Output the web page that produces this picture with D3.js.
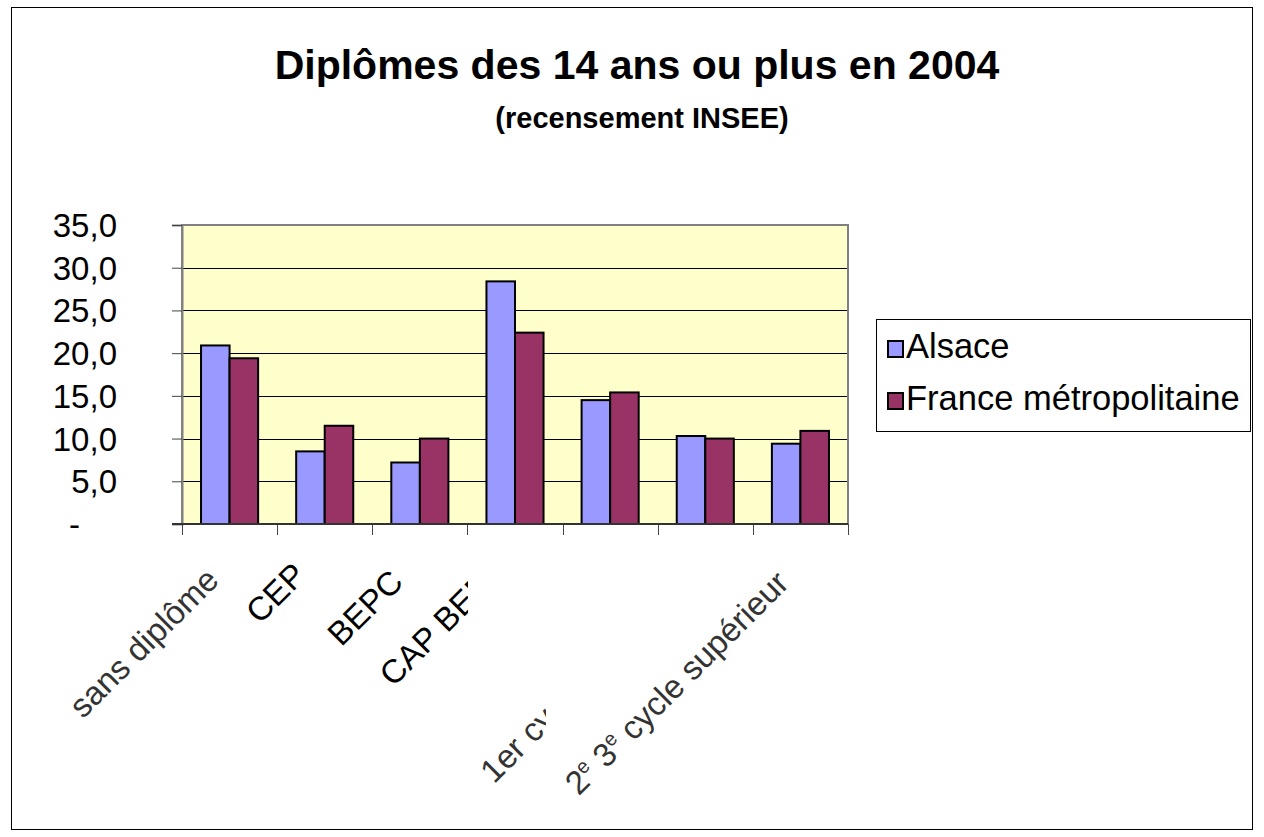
<!DOCTYPE html>
<html>
<head>
<meta charset="utf-8">
<script src="https://cdn.jsdelivr.net/npm/d3@7"></script>
<style>
  html, body { margin: 0; padding: 0; background: #fff; }
  svg { display: block; font-family: "Liberation Sans", Arial, sans-serif; }
</style>
</head>
<body>
<svg id="chart" width="1264" height="837"></svg>
<script>
// ---- data ----
const categories = ["sans diplôme", "CEP", "BEPC", "CAP BEP", "Bac BP", "1er cycle", "2e 3e cycle supérieur"];
const tickLabels = ["sans diplôme", "CEP", "BEPC", "CAP BEP", "", "1er cycle", "2e 3e cycle supérieur"];
const seriesNames = ["Alsace", "France métropolitaine"];
const alsace = [20.9, 8.5, 7.2, 28.4, 14.5, 10.3, 9.4];
const france = [19.4, 11.5, 10.0, 22.4, 15.4, 10.0, 10.9];
const yTicks = [0, 5, 10, 15, 20, 25, 30, 35];
const titleText = "Diplômes des 14 ans ou plus en 2004";
const subtitleText = "(recensement INSEE)";

// ---- layout / style ----
const colors = ["#9999FF", "#993366"];
const plot = { left: 182, right: 848, top: 225, bottom: 524 };
// anchor offsets of rotated category labels (relative to category centre / axis), and clip limits
const labelLayout = [
  { dx: -9, dy: 58 },
  { dx: -17, dy: 53 },
  { dx: -15, dy: 60 },
  { dx: -21, dy: 63, clipX: 468 },
  { dx: 0, dy: 0 },
  { dx: -118, dy: 167, clipX: 546 },
  { dx: -10, dy: 61 }
];

const svg = d3.select("#chart");

// outer frame
svg.append("rect").attr("x", 11.5).attr("y", 7.5).attr("width", 1241).attr("height", 822)
  .attr("fill", "#fff").attr("stroke", "#000").attr("stroke-width", 1);

// titles
svg.append("text").attr("x", 637).attr("y", 79).attr("text-anchor", "middle")
  .attr("font-size", 41).attr("font-weight", "bold").text(titleText);
svg.append("text").attr("x", 642).attr("y", 128).attr("text-anchor", "middle")
  .attr("font-size", 29).attr("font-weight", "bold").text(subtitleText);

// scales
const x0 = d3.scaleBand().domain(categories).range([plot.left, plot.right])
  .paddingInner(0.4).paddingOuter(0.2);
const xCat = d3.scaleBand().domain(categories).range([plot.left, plot.right]).padding(0);
const x1 = d3.scaleBand().domain(seriesNames).range([0, x0.bandwidth()]);
const y = d3.scaleLinear().domain([0, 35]).range([plot.bottom, plot.top]);

// plot background
svg.append("rect").attr("x", plot.left).attr("y", plot.top)
  .attr("width", plot.right - plot.left).attr("height", plot.bottom - plot.top)
  .attr("fill", "#FFFFCC");

// gridlines
svg.append("g").selectAll("line").data(yTicks.filter(d => d > 0 && d < 35)).join("line")
  .attr("x1", plot.left).attr("x2", plot.right)
  .attr("y1", d => Math.round(y(d)) + 0.5).attr("y2", d => Math.round(y(d)) + 0.5)
  .attr("stroke", "#000").attr("stroke-width", 1);

// plot border (gray)
svg.append("rect").attr("x", plot.left).attr("y", plot.top)
  .attr("width", plot.right - plot.left).attr("height", plot.bottom - plot.top)
  .attr("fill", "none").attr("stroke", "#808080").attr("stroke-width", 2);

// bars
const rows = categories.map((c, i) => ({ cat: c, vals: [alsace[i], france[i]] }));
const groups = svg.append("g").selectAll("g").data(rows).join("g")
  .attr("transform", d => `translate(${x0(d.cat)},0)`);
groups.selectAll("rect").data(d => d.vals.map((v, j) => ({ key: seriesNames[j], v, j }))).join("rect")
  .attr("x", d => x1(d.key))
  .attr("y", d => y(d.v))
  .attr("width", x1.bandwidth())
  .attr("height", d => y(0) - y(d.v))
  .attr("fill", d => colors[d.j])
  .attr("stroke", "#000").attr("stroke-width", 2);

// y axis
const fmt = d => d === 0 ? "-" : d3.format(".1f")(d).replace(".", ",");
const yAxis = d3.axisLeft(y).tickValues(yTicks).tickSize(10).tickPadding(0).tickFormat(fmt);
const yg = svg.append("g").attr("transform", `translate(${plot.left},0)`).call(yAxis);
yg.select(".domain").attr("stroke", "#808080").attr("stroke-width", 2);
yg.selectAll(".tick line").attr("stroke", "#444");
yg.selectAll(".tick text")
  .attr("font-family", "Liberation Sans, Arial, sans-serif")
  .attr("font-size", 33).attr("fill", "#000")
  .attr("x", d => d === 0 ? -102 : -65).attr("dy", "0.35em");

// x axis ticks at category boundaries
const boundaries = categories.map(c => xCat(c)).concat([plot.right]);
svg.append("g").selectAll("line").data(boundaries).join("line")
  .attr("x1", d => Math.round(d) + 0.5).attr("x2", d => Math.round(d) + 0.5)
  .attr("y1", plot.bottom).attr("y2", plot.bottom + 11)
  .attr("stroke", "#444").attr("stroke-width", 1);
svg.append("line").attr("x1", plot.left - 10).attr("x2", plot.right)
  .attr("y1", plot.bottom).attr("y2", plot.bottom).attr("stroke", "#333").attr("stroke-width", 2);

// clip paths for truncated labels
const defs = svg.append("defs");
labelLayout.forEach((l, i) => {
  if (l.clipX) {
    defs.append("clipPath").attr("id", "clip" + i)
      .append("rect").attr("x", 0).attr("y", 0).attr("width", l.clipX).attr("height", 837);
  }
});

// category labels (rotated)
const lg = svg.append("g");
tickLabels.forEach((t, i) => {
  if (!t) return;
  const l = labelLayout[i];
  const cx = xCat(categories[i]) + xCat.bandwidth() / 2 + l.dx;
  const cy = plot.bottom + l.dy;
  const wrap = lg.append("g");
  if (l.clipX) wrap.attr("clip-path", `url(#clip${i})`);
  const txt = wrap.append("text")
    .attr("transform", `translate(${cx},${cy}) rotate(-45)`)
    .attr("text-anchor", "end").attr("font-size", 33)
    .attr("fill", (i === 0 || i >= 5) ? "#333" : "#000");
  const m = t.match(/^(\d)e (\d)e (.*)$/);
  if (m) {
    txt.append("tspan").text(m[1]);
    txt.append("tspan").attr("font-size", 20).attr("dy", -12).text("e");
    txt.append("tspan").attr("dy", 12).text(" " + m[2]);
    txt.append("tspan").attr("font-size", 20).attr("dy", -12).text("e");
    txt.append("tspan").attr("dy", 12).text(" " + m[3]);
  } else {
    txt.text(t);
  }
});

// legend
const legend = svg.append("g");
legend.append("rect").attr("x", 876.5).attr("y", 319.5).attr("width", 374).attr("height", 112)
  .attr("fill", "#fff").attr("stroke", "#000").attr("stroke-width", 1);
const legendY = d3.scalePoint().domain(seriesNames).range([349, 401]);
seriesNames.forEach((s, j) => {
  legend.append("rect").attr("x", 888).attr("y", legendY(s) - 8).attr("width", 15).attr("height", 16)
    .attr("fill", colors[j]).attr("stroke", "#000").attr("stroke-width", 2);
  legend.append("text").attr("x", 906).attr("y", legendY(s) + 9)
    .attr("font-size", 34.5).text(s);
});
</script>
</body>
</html>
